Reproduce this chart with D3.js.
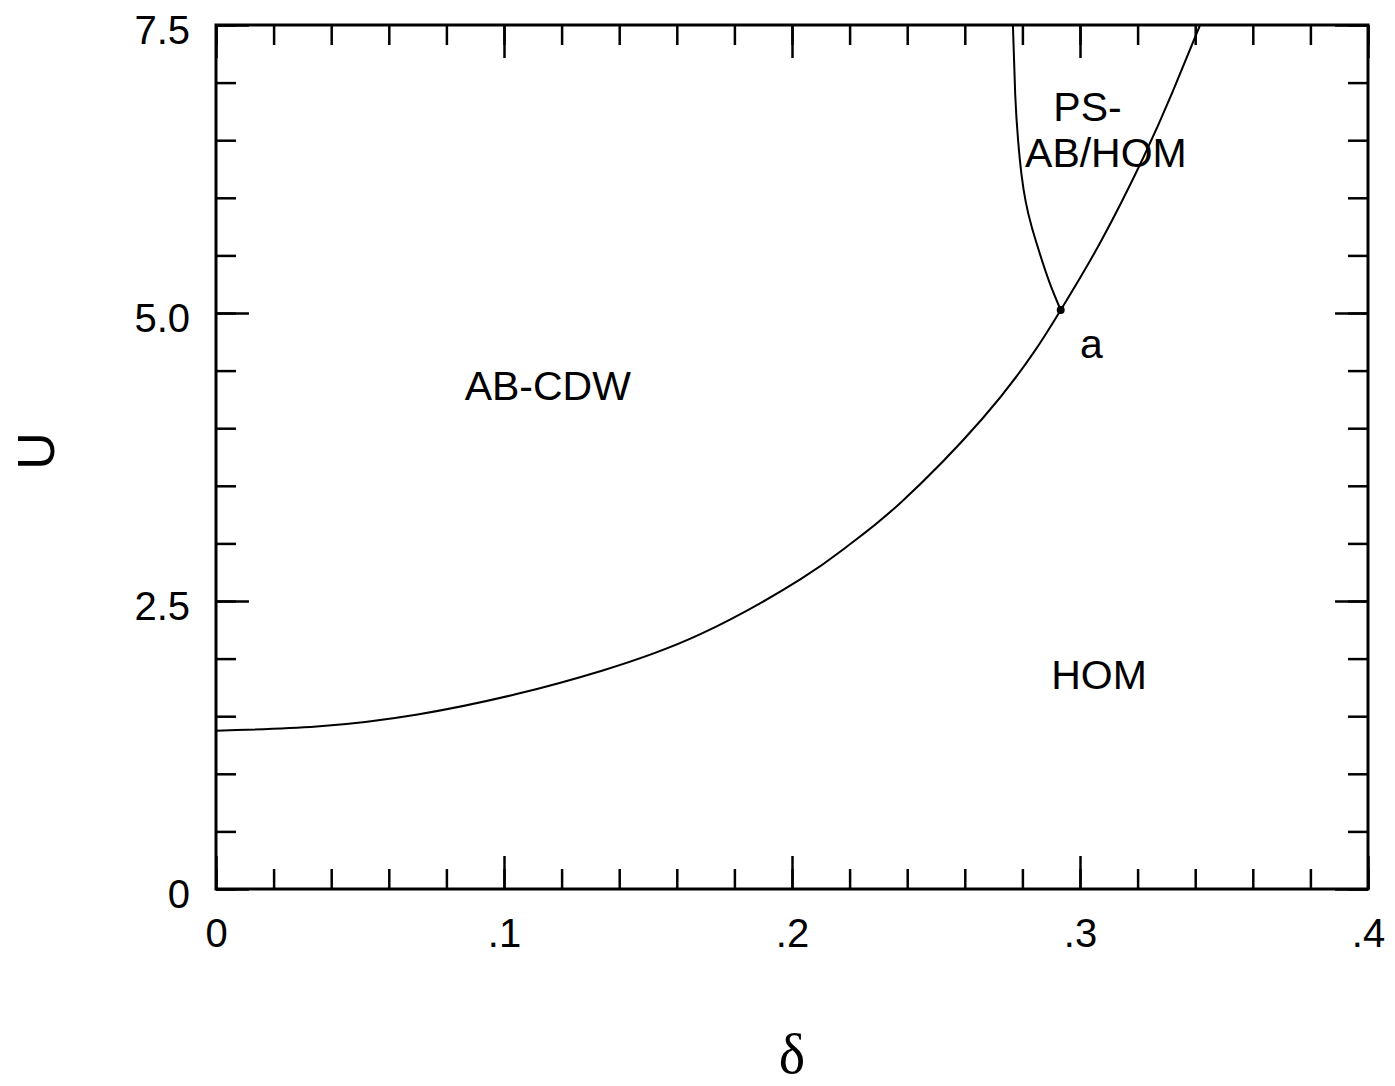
<!DOCTYPE html>
<html>
<head>
<meta charset="utf-8">
<script src="https://cdn.jsdelivr.net/npm/d3@7"></script>
<style>
  html, body { margin: 0; padding: 0; background: #fff; }
  svg { display: block; }
  text { font-family: "Liberation Sans", Arial, sans-serif; fill: #000; }
</style>
</head>
<body>
<script>
// Phase boundary AB-CDW / HOM (delta, U)
const boundaryDelta = [0, 0.035, 0.07, 0.104, 0.134, 0.168, 0.203, 0.220, 0.238, 0.266, 0.284, 0.2933, 0.307, 0.322, 0.332, 0.3417];
const boundaryU     = [1.374, 1.41, 1.515, 1.69, 1.895, 2.21, 2.69, 2.99, 3.36, 4.08, 4.66, 5.026, 5.61, 6.35, 6.91, 7.5];

// Boundary of the phase-separated region, from point a upward
const psU     = [5.026, 5.266, 5.527, 5.75, 5.96, 6.2, 6.5, 6.9, 7.5];
const psDelta = [0.2933, 0.2894, 0.2859, 0.2832, 0.2812, 0.2797, 0.2785, 0.2775, 0.2767];

// Point a
const pointA = { delta: 0.2933, U: 5.026 };

// Ticks
const xMajor = [0, 0.1, 0.2, 0.3, 0.4];
const xMajorLabels = ["0", ".1", ".2", ".3", ".4"];
const xMinor = d3.range(0, 0.4001, 0.02);
const yMajor = [0, 2.5, 5.0, 7.5];
const yMajorLabels = ["0", "2.5", "5.0", "7.5"];
const yMinor = d3.range(0, 7.5001, 0.5);

// Region labels (centre delta, baseline U)
const regionLabels = [
  { text: "AB-CDW", delta: 0.1152, U: 4.245 },
  { text: "HOM", delta: 0.3066, U: 1.734 },
  { text: "PS-", delta: 0.3026, U: 6.665 },
  { text: "AB/HOM", delta: 0.3090, U: 6.266 },
  { text: "a", delta: 0.3040, U: 4.607 }
];

const W = 1395, H = 1086;
const mLeft = 216, mRight = 1368, mTop = 25, mBottom = 889;

const svg = d3.select("body").append("svg").attr("width", W).attr("height", H);

const x = d3.scaleLinear().domain([0, 0.4]).range([mLeft, mRight]);
const y = d3.scaleLinear().domain([0, 7.5]).range([mBottom, mTop]);

const minorLen = 20, majorLen = 33;

function styleAxis(g) {
  g.select(".domain").remove();
  g.selectAll(".tick line").attr("stroke", "#000").attr("stroke-width", 2.5);
}

// bottom axis: minor + major ticks pointing inward, labels below
svg.append("g").attr("transform", `translate(0,${mBottom})`)
  .call(d3.axisBottom(x).tickValues(xMinor).tickSize(-minorLen).tickFormat(""))
  .call(styleAxis);
const xb = svg.append("g").attr("transform", `translate(0,${mBottom})`)
  .call(d3.axisBottom(x).tickValues(xMajor).tickSize(-majorLen)
    .tickFormat((d, i) => xMajorLabels[i]))
  .call(styleAxis);
xb.selectAll(".tick text")
  .attr("y", 58).attr("dy", 0)
  .style("font-size", "40px")
  .style("font-family", "'Liberation Sans', Arial, sans-serif")
  .attr("fill", "#000");

// top axis
svg.append("g").attr("transform", `translate(0,${mTop})`)
  .call(d3.axisTop(x).tickValues(xMinor).tickSize(-minorLen).tickFormat(""))
  .call(styleAxis);
svg.append("g").attr("transform", `translate(0,${mTop})`)
  .call(d3.axisTop(x).tickValues(xMajor).tickSize(-majorLen).tickFormat(""))
  .call(styleAxis);

// left axis
svg.append("g").attr("transform", `translate(${mLeft},0)`)
  .call(d3.axisLeft(y).tickValues(yMinor).tickSize(-minorLen).tickFormat(""))
  .call(styleAxis);
const yl = svg.append("g").attr("transform", `translate(${mLeft},0)`)
  .call(d3.axisLeft(y).tickValues(yMajor).tickSize(-majorLen)
    .tickFormat((d, i) => yMajorLabels[i]))
  .call(styleAxis);
yl.selectAll(".tick text")
  .attr("x", -26).attr("dy", 0).attr("y", 18)
  .attr("text-anchor", "end")
  .style("font-size", "40px")
  .style("font-family", "'Liberation Sans', Arial, sans-serif")
  .attr("fill", "#000");

// right axis
svg.append("g").attr("transform", `translate(${mRight},0)`)
  .call(d3.axisRight(y).tickValues(yMinor).tickSize(-minorLen).tickFormat(""))
  .call(styleAxis);
svg.append("g").attr("transform", `translate(${mRight},0)`)
  .call(d3.axisRight(y).tickValues(yMajor).tickSize(-majorLen).tickFormat(""))
  .call(styleAxis);

// frame
svg.append("rect")
  .attr("x", mLeft).attr("y", mTop)
  .attr("width", mRight - mLeft).attr("height", mBottom - mTop)
  .attr("fill", "none").attr("stroke", "#000").attr("stroke-width", 3);

// curves
const boundary = boundaryDelta.map((d, i) => [d, boundaryU[i]]);
const psLine = psDelta.map((d, i) => [d, psU[i]]);

const line = d3.line().x(d => x(d[0])).y(d => y(d[1])).curve(d3.curveNatural);

svg.append("path")
  .datum(boundary)
  .attr("d", line)
  .attr("fill", "none").attr("stroke", "#000").attr("stroke-width", 2);

svg.append("path")
  .datum(psLine)
  .attr("d", line)
  .attr("fill", "none").attr("stroke", "#000").attr("stroke-width", 2);

svg.append("circle")
  .attr("cx", x(pointA.delta)).attr("cy", y(pointA.U)).attr("r", 4)
  .attr("fill", "#000");

// region labels
svg.append("g").selectAll("text")
  .data(regionLabels)
  .join("text")
  .attr("x", d => x(d.delta))
  .attr("y", d => y(d.U))
  .attr("text-anchor", "middle")
  .style("font-size", "41px")
  .text(d => d.text);

// axis titles
svg.append("text")
  .attr("transform", "translate(54,451) rotate(-90)")
  .attr("text-anchor", "middle")
  .style("font-size", "52px")
  .text("U");

svg.append("text")
  .attr("x", 792).attr("y", 1073)
  .attr("text-anchor", "middle")
  .style("font-family", "'Liberation Serif', 'Times New Roman', serif")
  .style("font-size", "56px")
  .text("δ");
</script>
</body>
</html>
